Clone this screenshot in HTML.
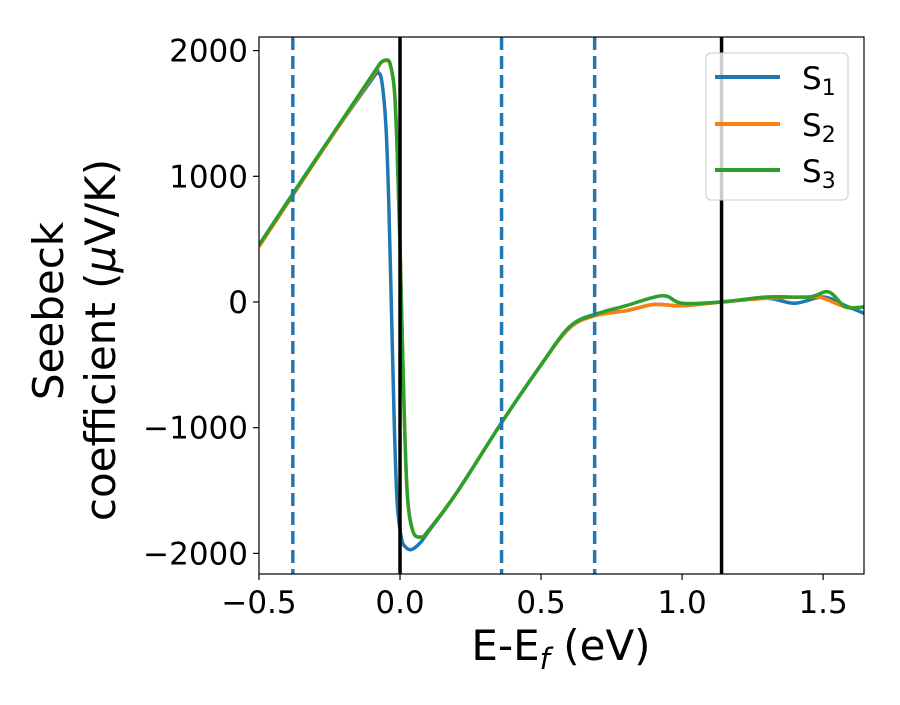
<!DOCTYPE html>
<html><head><meta charset="utf-8"><style>
body{margin:0;background:#fff}
svg text{font-family:"DejaVu Sans","Liberation Sans",sans-serif;fill:#000}
</style></head><body>
<svg id="chart" width="900" height="700" xmlns="http://www.w3.org/2000/svg">
<rect width="900" height="700" fill="#fff"/>
<defs><clipPath id="clip"><rect x="259" y="37" width="605" height="537"/></clipPath></defs>
<g id="grid"></g>
<g id="series" clip-path="url(#clip)"></g>
<rect x="259" y="37" width="605" height="537" fill="none" stroke="#000" stroke-width="1.2"/>
<g id="axes"></g>
<g>
<text transform="translate(63,311) rotate(-90)" text-anchor="middle" font-size="42">Seebeck</text>
<text transform="translate(115,340) rotate(-90)" text-anchor="middle" font-size="42">coefficient  (<tspan font-style="italic">μ</tspan>V/K)</text>
</g>
<text x="561" y="660" text-anchor="middle" font-size="42">E-E<tspan font-size="29" dy="9" font-style="italic">f</tspan><tspan dy="-9"> (eV)</tspan></text>
<g>
<rect x="706" y="53" width="142" height="147" rx="5" fill="#fff" fill-opacity="0.8" stroke="#ccc"/>
<g><line x1="715" x2="780" y1="77" y2="77" stroke="#1f77b4" stroke-width="4"/><text x="802" y="89" font-size="31">S<tspan font-size="22" dy="6">1</tspan></text></g>
<g><line x1="715" x2="780" y1="124" y2="124" stroke="#ff7f0e" stroke-width="4"/><text x="802" y="136" font-size="31">S<tspan font-size="22" dy="6">2</tspan></text></g>
<g><line x1="715" x2="780" y1="170" y2="170" stroke="#2ca02c" stroke-width="4"/><text x="802" y="182" font-size="31">S<tspan font-size="22" dy="6">3</tspan></text></g>
</g>
</svg>
<script>
const xTicks=[-0.5,0.0,0.5,1.0,1.5];
const xTickLabels=["\u22120.5","0.0","0.5","1.0","1.5"];
const yTicks=[2000,1000,0,-1000,-2000];
const yTickLabels=["2000","1000","0","\u22121000","\u22122000"];
const dashedLines=[-0.38,0.36,0.69];
const solidLines=[0.0,1.14];
const s1X=[-0.5,-0.3,-0.1,-0.08,-0.065,-0.05,-0.04,-0.03,-0.02,-0.01,0.005,0.02,0.04,0.07,0.1,0.2,0.36,0.5,0.6,0.69,0.8,0.9,1.0,1.14,1.3,1.4,1.5,1.58,1.645];
const s1Y=[453,1130,1770,1820,1760,1400,800,-100,-1000,-1600,-1880,-1950,-1970,-1920,-1830,-1520,-960,-500,-200,-100,-70,-20,-30,0,30,-10,40,-30,-90];
const s2X=[-0.5,-0.3,-0.1,-0.07,-0.05,-0.035,-0.02,-0.01,0.0,0.012,0.025,0.045,0.075,0.1,0.2,0.36,0.5,0.6,0.69,0.8,0.9,1.0,1.14,1.3,1.45,1.5,1.58,1.645];
const s2Y=[440,1120,1790,1895,1920,1890,1680,1200,450,-650,-1500,-1820,-1870,-1820,-1520,-960,-500,-210,-110,-70,-20,-30,0,30,40,30,-40,-40];
const s3X=[-0.5,-0.3,-0.1,-0.07,-0.05,-0.035,-0.02,-0.01,0.0,0.012,0.025,0.045,0.075,0.1,0.2,0.36,0.5,0.6,0.69,0.8,0.93,1.0,1.14,1.3,1.45,1.52,1.58,1.645];
const s3Y=[453,1130,1800,1900,1925,1895,1690,1200,450,-650,-1500,-1820,-1870,-1820,-1520,-960,-500,-200,-100,-30,50,-10,0,40,40,80,-40,-40];
const X0=259,X1=864,Y0=37,Y1=574,xmin=-0.5,xmax=1.645;
function xs(v){return X0+(v-xmin)/(xmax-xmin)*(X1-X0);}
function ys(v){return 302-v*0.1257;}
const NS="http://www.w3.org/2000/svg";
const axes=document.getElementById('axes'),ser=document.getElementById('series'),grid=document.getElementById('grid');
function mk(t,a,p){const e=document.createElementNS(NS,t);for(const k in a)e.setAttribute(k,a[k]);p.appendChild(e);return e;}
xTicks.forEach((v,i)=>{
 const g=mk('g',{},axes);
 
 
 mk('line',{x1:xs(v),x2:xs(v),y1:Y1,y2:Y1+6,stroke:'#000','stroke-width':1.2},g);
 const t=mk('text',{x:xs(v),y:Y1+39,'text-anchor':'middle','font-size':31},g);t.textContent=xTickLabels[i];
});
yTicks.forEach((v,i)=>{
 const g=mk('g',{},axes);
 
 
 mk('line',{x1:X0-6,x2:X0,y1:ys(v),y2:ys(v),stroke:'#000','stroke-width':1.2},g);
 const t=mk('text',{x:X0-11,y:ys(v)+11,'text-anchor':'end','font-size':31},g);t.textContent=yTickLabels[i];
});
function path(xa,ya){
 const p=xa.map((x,i)=>[xs(x),ys(ya[i])]);let d='M'+p[0][0]+','+p[0][1];
 for(let i=0;i<p.length-1;i++){const a=p[i-1]||p[i],b=p[i],c=p[i+1],e=p[i+2]||c;
  d+=` C${b[0]+(c[0]-a[0])/6},${b[1]+(c[1]-a[1])/6} ${c[0]-(e[0]-b[0])/6},${c[1]-(e[1]-b[1])/6} ${c[0]},${c[1]}`;}
 return d;}
[[s1X,s1Y,'#1f77b4','series-s1'],[s2X,s2Y,'#ff7f0e','series-s2'],[s3X,s3Y,'#2ca02c','series-s3']].forEach(s=>{
 const e=mk('path',{d:path(s[0],s[1]),fill:'none',stroke:s[2],'stroke-width':3.5,'stroke-linejoin':'round'},ser);
 
 
});
dashedLines.forEach(v=>{
 const e=mk('line',{x1:xs(v),x2:xs(v),y1:Y0,y2:Y1,stroke:'#1f77b4','stroke-width':3.5,'stroke-dasharray':'13,6'},ser);
 
 
});
solidLines.forEach(v=>{
 const e=mk('line',{x1:xs(v),x2:xs(v),y1:Y0,y2:Y1,stroke:'#000','stroke-width':3.5},ser);
 
 
});
</script>
</body></html>
